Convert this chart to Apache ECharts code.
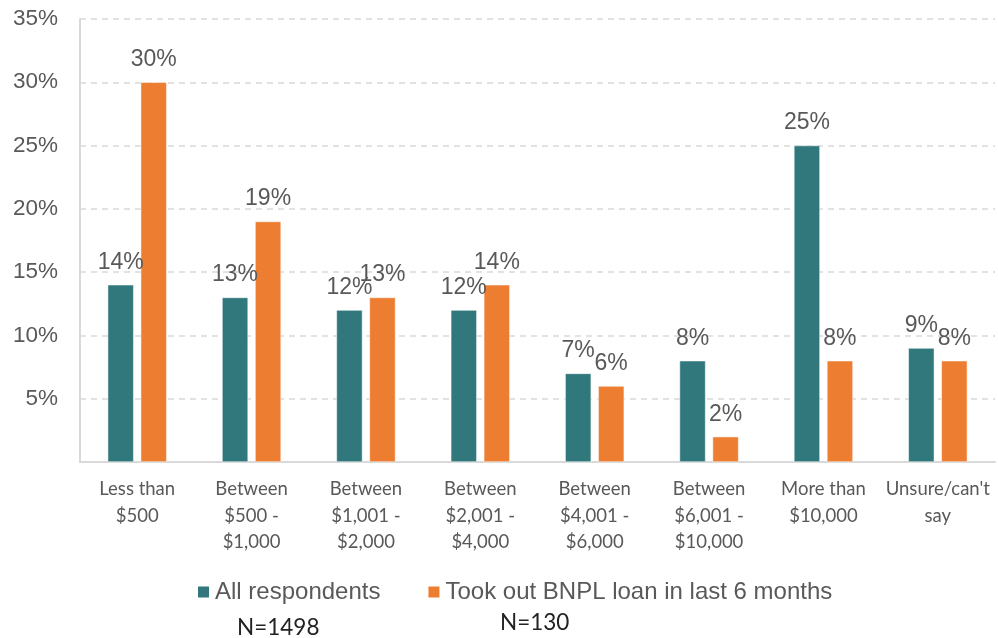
<!DOCTYPE html>
<html lang="en">
<head>
    <meta charset="UTF-8">
    <title>BNPL loan amounts</title>
    <script src="https://cdn.jsdelivr.net/npm/echarts@6/dist/echarts.min.js"></script>
    <style>
        html, body { margin: 0; padding: 0; background: #fff; }
        #chart { width: 998px; height: 638px; }
    </style>
</head>
<body>
    <div id="chart"></div>
    <script>
        // data
        var categories = ['Less than\n$500', 'Between\n$500 -\n$1,000', 'Between\n$1,001 -\n$2,000',
            'Between\n$2,001 -\n$4,000', 'Between\n$4,001 -\n$6,000', 'Between\n$6,001 -\n$10,000',
            'More than\n$10,000', "Unsure/can't\nsay"];
        var allRespondents = [14, 13, 12, 12, 7, 8, 25, 9];
        var tookBnpl = [30, 19, 13, 14, 6, 2, 8, 8];
        var seriesNames = ['All respondents', 'Took out BNPL loan in last 6 months'];
        var sampleNotes = ['N=1498', 'N=130'];

        var labelStyle = {
            show: true,
            position: 'top',
            distance: 11,
            formatter: '{c}%',
            fontFamily: 'Liberation Sans',
            fontSize: 23,
            color: '#595959'
        };

        var myChart = echarts.init(document.getElementById('chart'));
        myChart.setOption({
            animation: false,
            grid: { left: 80, right: 3, top: 19, bottom: 176 },
            legend: {
                data: seriesNames,
                left: 196,
                top: 580,
                padding: 0,
                itemWidth: 13,
                itemHeight: 13,
                itemGap: 46,
                icon: 'rect',
                textStyle: { fontFamily: 'Liberation Sans', fontSize: 24, color: '#595959' }
            },
            xAxis: {
                type: 'category',
                data: categories,
                axisLine: { lineStyle: { color: '#D9D9D9', width: 2 } },
                axisTick: { show: false },
                axisLabel: {
                    interval: 0,
                    margin: 14,
                    fontFamily: 'Lato',
                    fontSize: 18.5,
                    lineHeight: 26.5,
                    color: '#595959'
                }
            },
            yAxis: {
                type: 'value',
                min: 0,
                max: 35,
                interval: 5,
                axisLine: { show: true, lineStyle: { color: '#D9D9D9', width: 2 } },
                axisTick: { show: false },
                splitLine: { lineStyle: { color: '#D9D9D9', type: [6, 5], width: 1.5 } },
                axisLabel: {
                    margin: 22,
                    fontFamily: 'Liberation Sans',
                    fontSize: 22.5,
                    color: '#595959',
                    formatter: function (v) { return v === 0 ? '' : v + '%'; }
                }
            },
            series: [{
                name: seriesNames[0],
                type: 'bar',
                data: allRespondents,
                barWidth: 26,
                barGap: '27%',
                itemStyle: { color: '#31787C', borderColor: '#ffffff', borderWidth: 0.5 },
                label: labelStyle
            }, {
                name: seriesNames[1],
                type: 'bar',
                data: tookBnpl,
                barWidth: 26,
                barGap: '27%',
                itemStyle: { color: '#ED7D31', borderColor: '#ffffff', borderWidth: 0.5 },
                label: labelStyle
            }],
            graphic: [{
                type: 'text',
                left: 237,
                top: 616,
                style: { text: sampleNotes[0], fontFamily: 'Lato', fontSize: 22.5, fill: '#222222' }
            }, {
                type: 'text',
                left: 500,
                top: 611,
                style: { text: sampleNotes[1], fontFamily: 'Lato', fontSize: 22.5, fill: '#222222' }
            }]
        });
    </script>
</body>
</html>
